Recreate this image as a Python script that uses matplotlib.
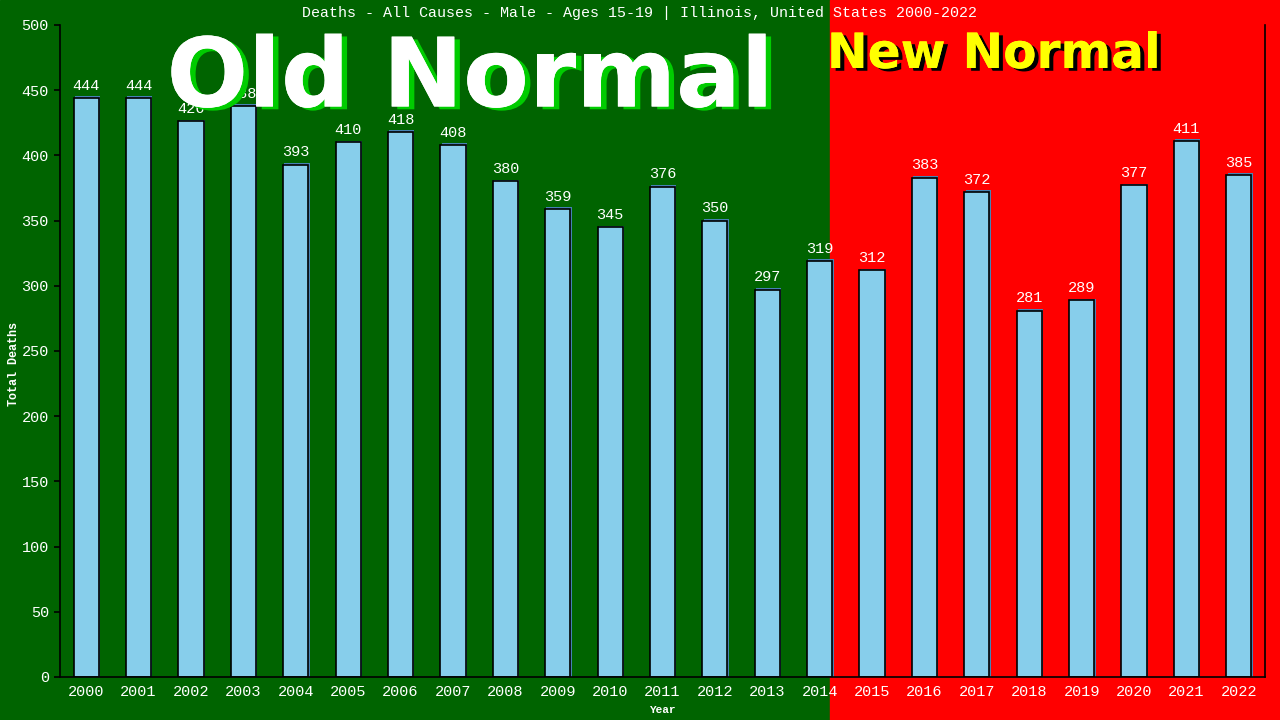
import matplotlib.pyplot as plt
from matplotlib.patches import Rectangle
import matplotlib.patheffects as pe

years = [str(y) for y in range(2000, 2023)]
deaths = [444, 444, 426, 438, 393, 410, 418, 408, 380, 359, 345, 376,
          350, 297, 319, 312, 383, 372, 281, 289, 377, 411, 385]

title = "Deaths - All Causes - Male - Ages 15-19 | Illinois, United States 2000-2022"
mono = ["Liberation Mono", "DejaVu Sans Mono"]

fig = plt.figure(figsize=(12.8, 7.2), dpi=100)
split = 830 / 1280
fig.patches.append(Rectangle((0, 0), split, 1, transform=fig.transFigure,
                             color="#006400", zorder=-10))
fig.patches.append(Rectangle((split, 0), 1 - split, 1, transform=fig.transFigure,
                             color="#ff0000", zorder=-10))

ax = fig.add_axes([60 / 1280, 43 / 720, 1205 / 1280, 652 / 720])
ax.set_facecolor("none")

x = list(range(len(years)))
# thin blue shadow behind each bar
ax.bar([i + 0.025 for i in x], [d + 1.2 for d in deaths], width=0.48,
       color="#4682b4", zorder=1)
ax.bar(x, deaths, width=0.48, color="#87ceeb", edgecolor="black",
       linewidth=1.2, zorder=2)
for i, d in zip(x, deaths):
    ax.text(i, d + 4, str(d), ha="center", va="bottom", color="white",
            fontsize=11, family=mono, zorder=3)

ax.set_xlim(-0.5, 22.5)
ax.set_ylim(0, 500)
ax.set_yticks(range(0, 501, 50))
ax.set_xticks(x)
ax.set_xticklabels(years)
for s in ["left", "right", "bottom"]:
    ax.spines[s].set_color("black")
    ax.spines[s].set_linewidth(1.2)
ax.spines["top"].set_visible(False)
ax.tick_params(axis="y", colors="white", labelsize=11, length=4, width=1.2, pad=4)
ax.tick_params(axis="x", colors="white", labelsize=11, length=0, pad=6)
for t in ax.get_xticklabels() + ax.get_yticklabels():
    t.set_family(mono)
ax.tick_params(axis="y", color="black")
ax.set_xlabel("Year", color="white", fontsize=8, family=mono,
              fontweight="bold", labelpad=4)
ax.set_ylabel("Total Deaths", color="white", fontsize=8.5, family=mono,
              fontweight="bold")
ax.yaxis.set_label_coords(-0.033, 0.48)

fig.text(0.5, 1 - 13 / 720, title, ha="center", va="center", color="white",
         fontsize=10.8, family=mono)

fig.text(470 / 1280, 1 - 80 / 720, "Old Normal", ha="center", va="center",
         color="white", fontsize=69, fontweight="bold", family="DejaVu Sans",
         zorder=5,
         path_effects=[pe.withSimplePatchShadow(offset=(4, -2),
                                                shadow_rgbFace="#00cc00", alpha=1),
                       pe.Normal()])
fig.text(994 / 1280, 1 - 54 / 720, "New Normal", ha="center", va="center",
         color="yellow", fontsize=35, fontweight="bold", family="DejaVu Sans",
         zorder=5,
         path_effects=[pe.withSimplePatchShadow(offset=(3, -2),
                                                shadow_rgbFace="black", alpha=1),
                       pe.Normal()])

fig.savefig("out.png", dpi=100)
